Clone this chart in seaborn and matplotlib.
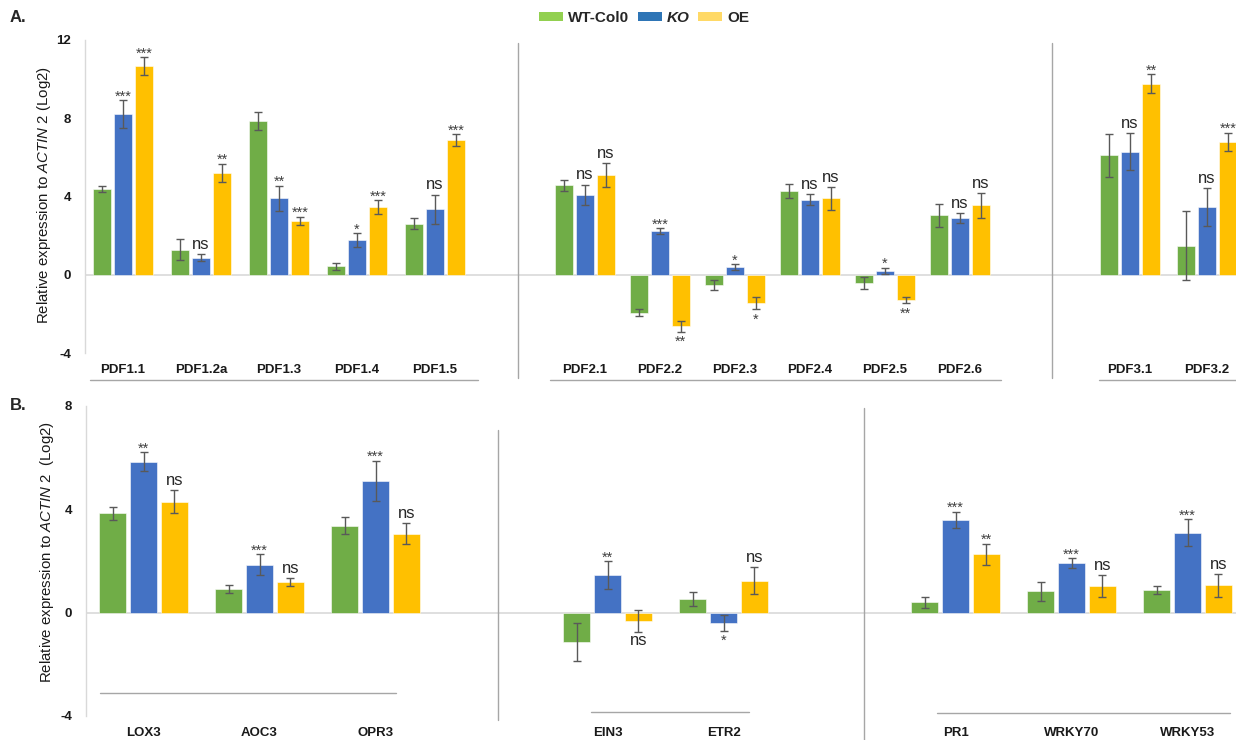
import matplotlib
matplotlib.use("Agg")
import matplotlib.pyplot as plt
from matplotlib.lines import Line2D
from matplotlib.patches import Patch
import numpy as np
import pandas as pd
import seaborn as sns

# ---- data -------------------------------------------------------------
genotypes = ["WT-Col0", "KO", "OE"]

pdf1_genes = ["PDF1.1", "PDF1.2a", "PDF1.3", "PDF1.4", "PDF1.5"]
pdf1_wt = [4.38, 1.29, 7.86, 0.43, 2.61]
pdf1_wt_err = [0.17, 0.56, 0.45, 0.19, 0.27]
pdf1_ko = [8.21, 0.88, 3.90, 1.77, 3.34]
pdf1_ko_err = [0.72, 0.19, 0.66, 0.36, 0.76]
pdf1_oe = [10.67, 5.20, 2.76, 3.46, 6.88]
pdf1_oe_err = [0.47, 0.48, 0.21, 0.34, 0.32]
pdf1_ko_sig = ["***", "ns", "**", "*", "ns"]
pdf1_oe_sig = ["***", "**", "***", "***", "***"]

pdf2_genes = ["PDF2.1", "PDF2.2", "PDF2.3", "PDF2.4", "PDF2.5", "PDF2.6"]
pdf2_wt = [4.57, -1.93, -0.51, 4.28, -0.43, 3.03]
pdf2_wt_err = [0.27, 0.17, 0.26, 0.36, 0.31, 0.61]
pdf2_ko = [4.10, 2.22, 0.39, 3.83, 0.20, 2.88]
pdf2_ko_err = [0.51, 0.15, 0.15, 0.29, 0.17, 0.26]
pdf2_oe = [5.10, -2.64, -1.45, 3.90, -1.31, 3.54]
pdf2_oe_err = [0.62, 0.27, 0.31, 0.59, 0.15, 0.65]
pdf2_ko_sig = ["ns", "***", "*", "ns", "*", "ns"]
pdf2_oe_sig = ["ns", "**", "*", "ns", "**", "ns"]

pdf3_genes = ["PDF3.1", "PDF3.2"]
pdf3_wt = [6.10, 1.48]
pdf3_wt_err = [1.09, 1.76]
pdf3_ko = [6.30, 3.46]
pdf3_ko_err = [0.95, 0.97]
pdf3_oe = [9.76, 6.80]
pdf3_oe_err = [0.49, 0.47]
pdf3_ko_sig = ["ns", "ns"]
pdf3_oe_sig = ["**", "***"]

ja_genes = ["LOX3", "AOC3", "OPR3"]
ja_wt = [3.84, 0.93, 3.37]
ja_wt_err = [0.26, 0.16, 0.34]
ja_ko = [5.85, 1.86, 5.10]
ja_ko_err = [0.37, 0.41, 0.78]
ja_oe = [4.30, 1.18, 3.06]
ja_oe_err = [0.43, 0.16, 0.41]
ja_ko_sig = ["**", "***", "***"]
ja_oe_sig = ["ns", "ns", "ns"]

et_genes = ["EIN3", "ETR2"]
et_wt = [-1.14, 0.54]
et_wt_err = [0.75, 0.27]
et_ko = [1.45, -0.40]
et_ko_err = [0.54, 0.30]
et_oe = [-0.32, 1.23]
et_oe_err = [0.41, 0.52]
et_ko_sig = ["**", "*"]
et_oe_sig = ["ns", "ns"]

sa_genes = ["PR1", "WRKY70", "WRKY53"]
sa_wt = [0.41, 0.83, 0.89]
sa_wt_err = [0.21, 0.37, 0.16]
sa_ko = [3.59, 1.92, 3.10]
sa_ko_err = [0.32, 0.18, 0.52]
sa_oe = [2.26, 1.02, 1.06]
sa_oe_err = [0.41, 0.42, 0.44]
sa_ko_sig = ["***", "***", "***"]
sa_oe_sig = ["**", "ns", "ns"]

bar_colors = ["#70AD47", "#4472C4", "#FFC000"]
legend_colors = ["#92D050", "#2E75B6", "#FFD966"]

# ---- style ------------------------------------------------------------
sns.set_theme(style="white")
plt.rcParams["font.family"] = ["Liberation Sans", "DejaVu Sans"]
plt.rcParams["mathtext.fontset"] = "custom"
plt.rcParams["mathtext.rm"] = "Liberation Sans"
plt.rcParams["mathtext.it"] = "Liberation Sans:italic"

W, H = 1236, 740
fig = plt.figure(figsize=(W / 100, H / 100), dpi=100)
fig.patch.set_facecolor("white")

LIGHT = "#D9D9D9"
MID = "#A6A6A6"


def fig_line(x0, y0, x1, y1, color=MID, lw=1.0):
    fig.add_artist(Line2D([x0 / W, x1 / W], [1 - y0 / H, 1 - y1 / H],
                          transform=fig.transFigure, color=color, lw=lw))


def make_axes(left, right, top, bottom, c0, step, ylim):
    ax = fig.add_axes([left / W, 1 - bottom / H, (right - left) / W, (bottom - top) / H])
    ax.set_facecolor("none")
    return ax, ((left - c0) / step, (right - c0) / step), ylim


def draw_group(ax, xlim, ylim, genes, wt, wt_e, ko, ko_e, oe, oe_e,
               ko_sig, oe_sig, width, gap, first=False, ticks=None, ylabel=None,
               ylabel_x=0.0, ylabel_y=0.5):
    df = pd.DataFrame({
        "gene": genes * 3,
        "genotype": np.repeat(genotypes, len(genes)),
        "value": list(wt) + list(ko) + list(oe),
    })
    sns.barplot(data=df, x="gene", y="value", hue="genotype", order=genes,
                hue_order=genotypes, palette=bar_colors, saturation=1,
                width=width, gap=gap, errorbar=None, legend=False, ax=ax,
                edgecolor=(1, 1, 1, 0.55), linewidth=0.7)
    all_vals = [wt, ko, oe]
    all_errs = [wt_e, ko_e, oe_e]
    centers = []
    for cont, vals, errs in zip(ax.containers, all_vals, all_errs):
        xs = [b.get_x() + b.get_width() / 2 for b in cont]
        centers.append(xs)
        ax.errorbar(xs, vals, yerr=errs, fmt="none", ecolor="#595959",
                    elinewidth=1.0, capsize=2.6, capthick=1.0, zorder=4)
    # significance marks for KO and OE
    for idx, sigs in ((1, ko_sig), (2, oe_sig)):
        for x, v, e, s in zip(centers[idx], all_vals[idx], all_errs[idx], sigs):
            is_ns = s == "ns"
            size = 12 if is_ns else 10.5
            col = "#262626" if is_ns else "#404040"
            if v >= 0:
                ax.annotate(s, (x, v + e), xytext=(0, 1.5 if is_ns else -2.5),
                            textcoords="offset points", ha="center", va="bottom",
                            fontsize=size, color=col, zorder=5)
            else:
                ax.annotate(s, (x, v - e), xytext=(0, -1 if is_ns else -2.5),
                            textcoords="offset points", ha="center", va="top",
                            fontsize=size, color=col, zorder=5)
    ax.axhline(0, color=LIGHT, lw=1.2, zorder=0.5)
    ax.set_xlim(*xlim)
    ax.set_ylim(*ylim)
    ax.set_xlabel("")
    for sp in ax.spines.values():
        sp.set_visible(False)
    ax.tick_params(axis="both", length=0)
    ax.tick_params(axis="x", pad=8)
    for lab in ax.get_xticklabels():
        lab.set_fontweight("bold")
        lab.set_fontsize(9.5)
        lab.set_color("#1a1a1a")
    if first:
        ax.set_yticks(ticks)
        ax.set_yticklabels([str(t) for t in ticks], fontweight="bold",
                           fontsize=9.5, color="#1a1a1a")
        ax.tick_params(axis="y", pad=10)
        ax.spines["left"].set_visible(True)
        ax.spines["left"].set_color(LIGHT)
        ax.spines["left"].set_linewidth(1.0)
        ax.set_ylabel(ylabel, fontsize=10.8, color="#1a1a1a")
        ax.yaxis.set_label_coords(ylabel_x, ylabel_y)
    else:
        ax.set_yticks([])
        ax.set_ylabel("")


ylabel_txt = r"Relative expression to $\mathit{ACTIN\ 2}$ (Log2)"
ylabel_txt_b = r"Relative expression to $\mathit{ACTIN\ 2}$  (Log2)"

# ---- panel A ----------------------------------------------------------
A_TOP, A_BOT = 40, 353
ax, xl, yl = make_axes(85, 518, A_TOP, A_BOT, 123, 78, (-4, 12))
draw_group(ax, xl, yl, pdf1_genes, pdf1_wt, pdf1_wt_err, pdf1_ko, pdf1_ko_err,
           pdf1_oe, pdf1_oe_err, pdf1_ko_sig, pdf1_oe_sig, 0.81, 0.14,
           first=True, ticks=[-4, 0, 4, 8, 12], ylabel=ylabel_txt,
           ylabel_x=(53 - 85) / 433, ylabel_y=(353 - 195.5) / 313)

ax, xl, yl = make_axes(518, 1052, A_TOP, A_BOT, 585, 75, (-4, 12))
draw_group(ax, xl, yl, pdf2_genes, pdf2_wt, pdf2_wt_err, pdf2_ko, pdf2_ko_err,
           pdf2_oe, pdf2_oe_err, pdf2_ko_sig, pdf2_oe_sig, 0.83, 0.14)

ax, xl, yl = make_axes(1052, 1236, A_TOP, A_BOT, 1130, 77, (-4, 12))
draw_group(ax, xl, yl, pdf3_genes, pdf3_wt, pdf3_wt_err, pdf3_ko, pdf3_ko_err,
           pdf3_oe, pdf3_oe_err, pdf3_ko_sig, pdf3_oe_sig, 0.82, 0.14)

fig_line(518, 43, 518, 378)
fig_line(1052, 43, 1052, 378)
fig_line(90, 380, 478, 380)
fig_line(550, 380, 1001, 380)
fig_line(1099, 380, 1236, 380)

# ---- panel B ----------------------------------------------------------
B_TOP, B_BOT = 406, 716
ax, xl, yl = make_axes(86, 498, B_TOP, B_BOT, 143.5, 116, (-4, 8))
draw_group(ax, xl, yl, ja_genes, ja_wt, ja_wt_err, ja_ko, ja_ko_err,
           ja_oe, ja_oe_err, ja_ko_sig, ja_oe_sig, 0.80, 0.13,
           first=True, ticks=[-4, 0, 4, 8], ylabel=ylabel_txt_b,
           ylabel_x=(56 - 86) / 412, ylabel_y=(716 - 552) / 310)

ax, xl, yl = make_axes(498, 864, B_TOP, B_BOT, 607.5, 116, (-4, 8))
draw_group(ax, xl, yl, et_genes, et_wt, et_wt_err, et_ko, et_ko_err,
           et_oe, et_oe_err, et_ko_sig, et_oe_sig, 0.80, 0.13)

ax, xl, yl = make_axes(864, 1236, B_TOP, B_BOT, 955.5, 116, (-4, 8))
draw_group(ax, xl, yl, sa_genes, sa_wt, sa_wt_err, sa_ko, sa_ko_err,
           sa_oe, sa_oe_err, sa_ko_sig, sa_oe_sig, 0.80, 0.13)

fig_line(498, 430, 498, 720)
fig_line(864, 408, 864, 740)
fig_line(100, 693, 396, 693)
fig_line(591, 712, 749, 712)
fig_line(937, 713, 1230, 713)

# ---- panel letters and legend ----------------------------------------
fig.text(10 / W, 1 - 18 / H, "A.", fontsize=12, fontweight="bold", va="center", ha="left")
fig.text(10 / W, 1 - 406 / H, "B.", fontsize=12, fontweight="bold", va="center", ha="left")

handles = [Patch(facecolor=c, edgecolor="none") for c in legend_colors]
leg = fig.legend(handles, genotypes, loc="center", bbox_to_anchor=(644 / W, 1 - 18 / H),
                 ncol=3, frameon=False, handlelength=1.57, handleheight=0.6,
                 handletextpad=0.3, columnspacing=0.6,
                 prop={"size": 11, "weight": "bold"})
leg.get_texts()[1].set_style("italic")

fig.savefig("out.png", dpi=100, facecolor="white")
